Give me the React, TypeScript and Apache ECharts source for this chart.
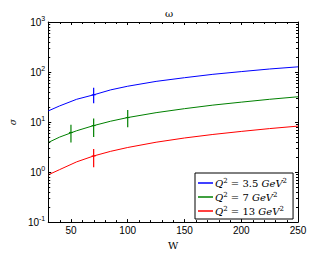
import React, { useEffect, useRef } from "react";
import * as echarts from "echarts";

const W_VALUES = [30, 40, 55, 70, 85, 100, 125, 150, 175, 200, 225, 250];
const BLUE_VALUES = [16.7, 21, 28.5, 35, 44, 52, 65, 77, 90, 102, 115, 127];
const GREEN_VALUES = [3.9, 5.0, 6.7, 8.5, 10.4, 12.3, 15.4, 18.5, 21.8, 25, 28.5, 32];
const RED_VALUES = [0.88, 1.12, 1.6, 2.1, 2.6, 3.1, 3.95, 4.8, 5.65, 6.5, 7.4, 8.3];

// error bars: [W, low, high, central]
const BLUE_ERRORS = [[70, 23.8, 48.5, 35]];
const GREEN_ERRORS = [
  [50, 3.9, 8.8, 6.2],
  [70, 5.0, 11.8, 8.5],
  [100, 7.9, 17.5, 12.3],
];
const RED_ERRORS = [[70, 1.25, 2.9, 2.1]];

const X_TICKS = [50, 100, 150, 200, 250];
const X_MINOR = [40, 60, 70, 80, 90, 110, 120, 130, 140, 160, 170, 180, 190, 210, 220, 230, 240];
const Y_MINOR_MANTISSA = [2, 3, 4, 5, 6, 7, 8, 9];
const Y_DECADES = [0.1, 1, 10, 100];
const SERIES_NAMES = ["Q2 = 3.5", "Q2 = 7", "Q2 = 13"];
const COLORS = ["#0000ff", "#008000", "#ff0000"];

function errorRender(color: string) {
  return (params: any, api: any) => {
    const x = api.value(0);
    const lo = api.coord([x, api.value(1)]);
    const hi = api.coord([x, api.value(2)]);
    const mid = api.coord([x, api.value(3)]);
    return {
      type: "group",
      children: [
        {
          type: "line",
          shape: { x1: lo[0], y1: lo[1], x2: hi[0], y2: hi[1] },
          style: { stroke: color, lineWidth: 1.2 },
        },
        {
          type: "line",
          shape: { x1: mid[0] - 2, y1: mid[1], x2: mid[0] + 2, y2: mid[1] },
          style: { stroke: color, lineWidth: 1 },
        },
      ],
    };
  };
}

export default function App() {
  const ref = useRef<HTMLDivElement>(null);
  useEffect(() => {
    const chart = echarts.init(ref.current!, null, { renderer: "svg" });

    const xMinorData = X_MINOR.map((v) => [v, 1]);
    const yMinorData: number[][] = [];
    Y_DECADES.forEach((d) => Y_MINOR_MANTISSA.forEach((k) => yMinorData.push([30, +(d * k).toPrecision(3)])));

    const lineSeries = [BLUE_VALUES, GREEN_VALUES, RED_VALUES].map((vals, i) => ({
      name: SERIES_NAMES[i],
      type: "line",
      data: W_VALUES.map((w, j) => [w, vals[j]]),
      showSymbol: false,
      lineStyle: { color: COLORS[i], width: 1 },
      itemStyle: { color: COLORS[i] },
      z: 3,
    }));

    const errSeries = [BLUE_ERRORS, GREEN_ERRORS, RED_ERRORS].map((errs, i) => ({
      type: "custom",
      renderItem: errorRender(COLORS[i]),
      data: errs,
      encode: { x: 0, y: [1, 2] },
      z: 4,
    }));

    const legendRich: any = {
      i: { fontFamily: "DejaVu Serif, serif", fontStyle: "italic", fontSize: 10 },
      t: { fontFamily: "DejaVu Serif, serif", fontSize: 10 },
      s: { fontFamily: "DejaVu Serif, serif", fontSize: 7, padding: [0, 0, 5, 0] },
    };

    chart.setOption({
      animation: false,
      title: {
        text: "ω",
        left: 160,
        top: 3,
        textStyle: { fontFamily: "DejaVu Serif, serif", fontSize: 10, fontWeight: "normal", color: "#000" },
      },
      grid: { left: 34, right: 13, top: 22, bottom: 26 },
      legend: {
        data: SERIES_NAMES,
        orient: "vertical",
        left: 195,
        top: 173,
        width: 101,
        padding: [4, 6, 3, 3],
        itemGap: 3,
        itemWidth: 15,
        itemHeight: 1.5,
        icon: "rect",
        borderColor: "#000",
        borderWidth: 1,
        backgroundColor: "#fff",
        formatter: (name: string) => {
          const v = name.replace("Q2 = ", "");
          return `{i|Q}{s|2}{t| = ${v} }{i|GeV}{s|2}`;
        },
        textStyle: { color: "#000", rich: legendRich, padding: [0, 0, 0, -3] },
      },
      xAxis: [
        {
          type: "value",
          min: 30,
          max: 250,
          name: "W",
          nameLocation: "middle",
          nameGap: 12,
          nameTextStyle: { fontFamily: "DejaVu Serif, serif", fontSize: 10, color: "#000" },
          axisLine: { lineStyle: { color: "#000", width: 1 } },
          axisTick: { inside: true, length: 3, customValues: X_TICKS, lineStyle: { color: "#000" } },
          axisLabel: { customValues: X_TICKS, color: "#000", fontSize: 10, fontFamily: "Liberation Sans, Arial", margin: 3 },
          splitLine: { show: false },
        },
        {
          type: "value",
          position: "top",
          min: 30,
          max: 250,
          axisLine: { show: true, onZero: false, lineStyle: { color: "#000", width: 1 } },
          axisTick: { inside: true, length: 3, customValues: X_TICKS, lineStyle: { color: "#000" } },
          axisLabel: { show: false },
          splitLine: { show: false },
        },
      ],
      yAxis: [
        {
          type: "log",
          logBase: 10,
          min: 0.1,
          max: 1000,
          name: "σ",
          nameLocation: "middle",
          nameGap: 22,
          nameRotate: 90,
          nameTextStyle: { fontFamily: "DejaVu Serif, serif", fontStyle: "italic", fontSize: 9, color: "#000" },
          axisLine: { show: true, lineStyle: { color: "#000", width: 1 } },
          axisTick: { inside: true, length: 3, lineStyle: { color: "#000" } },
          axisLabel: {
            color: "#000",
            fontSize: 10,
            fontFamily: "Liberation Sans, Arial",
            margin: 3,
            formatter: (v: number) => `10{s|${Math.round(Math.log10(v))}}`,
            rich: { s: { fontSize: 7, fontFamily: "Liberation Sans, Arial", padding: [0, 0, 7, 0] } },
          },
          splitLine: { show: false },
        },
        {
          type: "log",
          logBase: 10,
          min: 0.1,
          max: 1000,
          position: "right",
          axisLine: { show: true, lineStyle: { color: "#000", width: 1 } },
          axisTick: { inside: true, length: 3, lineStyle: { color: "#000" } },
          axisLabel: { show: false },
          splitLine: { show: false },
        },
      ],
      series: [
        ...lineSeries,
        ...errSeries,
        {
          type: "custom",
          silent: true,
          data: xMinorData,
          encode: { x: 0, y: 1 },
          clip: false,
          z: 5,
          renderItem: (params: any, api: any) => {
            const cs = params.coordSys;
            const p = api.coord([api.value(0), api.value(1)]);
            const x = Math.round(p[0]) + 0.5;
            const b = cs.y + cs.height;
            return {
              type: "group",
              children: [
                { type: "line", shape: { x1: x, y1: b, x2: x, y2: b - 2 }, style: { stroke: "#000", lineWidth: 1 } },
                { type: "line", shape: { x1: x, y1: cs.y, x2: x, y2: cs.y + 2 }, style: { stroke: "#000", lineWidth: 1 } },
              ],
            };
          },
        },
        {
          type: "custom",
          silent: true,
          data: yMinorData,
          encode: { x: 0, y: 1 },
          clip: false,
          z: 5,
          renderItem: (params: any, api: any) => {
            const cs = params.coordSys;
            const p = api.coord([api.value(0), api.value(1)]);
            const y = Math.round(p[1]) + 0.5;
            const r = cs.x + cs.width;
            return {
              type: "group",
              children: [
                { type: "line", shape: { x1: cs.x, y1: y, x2: cs.x + 2, y2: y }, style: { stroke: "#000", lineWidth: 1 } },
                { type: "line", shape: { x1: r, y1: y, x2: r - 2, y2: y }, style: { stroke: "#000", lineWidth: 1 } },
              ],
            };
          },
        },
      ],
    });
    return () => chart.dispose();
  }, []);
  return <div ref={ref} style={{ width: 311, height: 255, position: "absolute", left: 0, top: 0 }} />;
}
